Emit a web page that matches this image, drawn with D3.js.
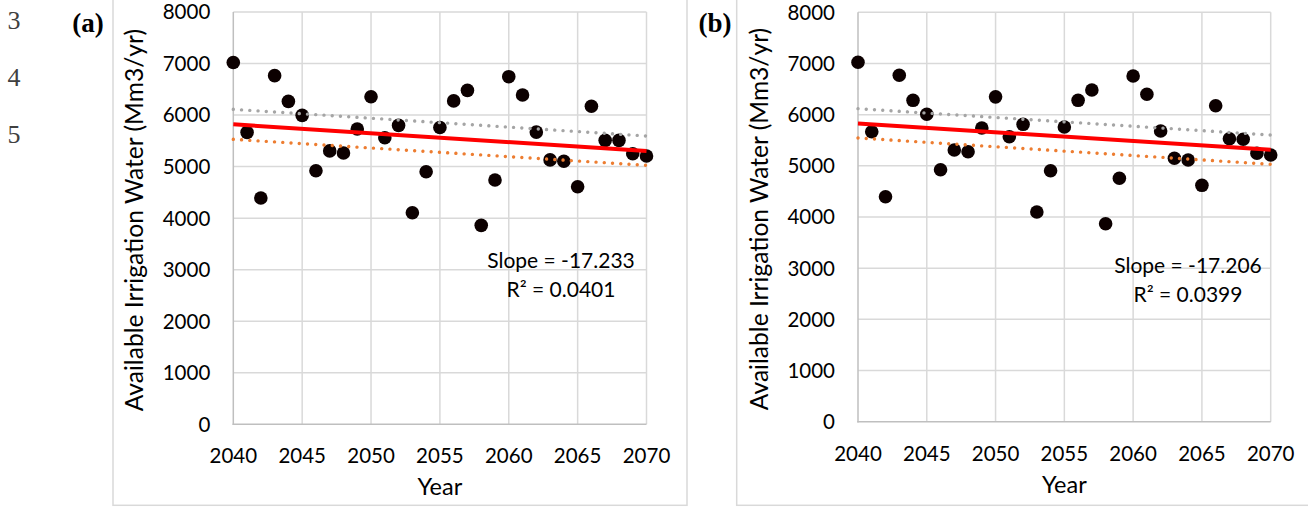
<!DOCTYPE html>
<html>
<head>
<meta charset="utf-8">
<script src="https://cdn.jsdelivr.net/npm/d3@7"></script>
<style>
  body { margin: 0; background: #fff; }
  svg { display: block; }
</style>
</head>
<body>
<svg id="chart" width="1308" height="508"></svg>
<script>
// Simulated years
const years = [2040, 2041, 2042, 2043, 2044, 2045, 2046, 2047, 2048, 2049,
               2050, 2051, 2052, 2053, 2054, 2055, 2056, 2057, 2058, 2059,
               2060, 2061, 2062, 2063, 2064, 2065, 2066, 2067, 2068, 2069, 2070];

// Available irrigation water (Mm3/yr), scenario (a)
const waterA = [7020, 5665, 4390, 6765, 6265, 5995, 4920, 5305, 5265, 5730,
                6355, 5560, 5800, 4105, 4900, 5760, 6275, 6480, 3860, 4740,
                6745, 6390, 5670, 5130, 5105, 4610, 6170, 5510, 5510, 5250, 5205];

// Available irrigation water (Mm3/yr), scenario (b)
const waterB = [7023, 5667, 4397, 6769, 6280, 6007, 4924, 5309, 5276, 5739,
                6348, 5569, 5811, 4098, 4905, 5759, 6280, 6482, 3869, 4756,
                6755, 6398, 5680, 5147, 5114, 4619, 6175, 5530, 5518, 5245, 5212];

// Linear trend: slope per year and value at the first year
const slopeA = -17.233, r2A = "0.0401", trendStartA = 5820;
const slopeB = -17.206, r2B = "0.0399", trendStartB = 5829;

// Dotted bounding trends, [value at 2040, value at 2070]
const upperA = [6112, 5594], lowerA = [5530, 5025];
const upperB = [6117, 5602], lowerB = [5545, 5030];

const xTicks = [2040, 2045, 2050, 2055, 2060, 2065, 2070];
const yTicks = [0, 1000, 2000, 3000, 4000, 5000, 6000, 7000, 8000];
const panelLabels = ["(a)", "(b)"];
const lineNumbers = ["3", "4", "5"];

const svg = d3.select("#chart");
const sans = "Lato, 'Open Sans', sans-serif";
const serif = "'Liberation Serif', 'DejaVu Serif', serif";

// Manuscript line numbers in the margin
svg.selectAll("text.lineno")
  .data(lineNumbers)
  .join("text")
  .attr("class", "lineno")
  .attr("x", 14)
  .attr("y", (d, i) => [29, 86, 143][i])
  .attr("text-anchor", "middle")
  .attr("font-family", serif)
  .attr("font-size", 26)
  .attr("fill", "#404040")
  .text(d => d);

const panels = [
  { label: panelLabels[0], values: waterA, slope: slopeA, r2: r2A, start: trendStartA,
    upper: upperA, lower: lowerA,
    frame: [113, 687], labelPos: [88, 32],
    plot: { left: 233.3, right: 646.5, top: 12, bottom: 424.3 },
    note: [561, 268] },
  { label: panelLabels[1], values: waterB, slope: slopeB, r2: r2B, start: trendStartB,
    upper: upperB, lower: lowerB,
    frame: [736.7, 1320], labelPos: [715, 32],
    plot: { left: 858, right: 1270.7, top: 12.3, bottom: 421.7 },
    note: [1188, 272.5] }
];

panels.forEach(p => {
  const g = svg.append("g");
  const P = p.plot;

  // chart frame
  g.append("rect")
    .attr("x", p.frame[0]).attr("y", -10)
    .attr("width", p.frame[1] - p.frame[0]).attr("height", 505.3 + 10)
    .attr("fill", "none").attr("stroke", "#d9d9d9").attr("stroke-width", 1.5);

  // panel label
  g.append("text")
    .attr("x", p.labelPos[0]).attr("y", p.labelPos[1])
    .attr("text-anchor", "middle")
    .attr("font-family", serif).attr("font-weight", "bold").attr("font-size", 27)
    .attr("fill", "#000")
    .text(p.label);

  const x = d3.scaleLinear().domain([2040, 2070]).range([P.left, P.right]);
  const y = d3.scaleLinear().domain([0, 8000]).range([P.bottom, P.top]);

  // gridlines
  g.append("g").selectAll("line")
    .data(yTicks.filter(v => v > 0))
    .join("line")
    .attr("x1", P.left).attr("x2", P.right)
    .attr("y1", d => y(d)).attr("y2", d => y(d))
    .attr("stroke", "#d9d9d9").attr("stroke-width", 1.5);
  g.append("g").selectAll("line")
    .data(xTicks.filter(v => v > 2040))
    .join("line")
    .attr("x1", d => x(d)).attr("x2", d => x(d))
    .attr("y1", P.top).attr("y2", P.bottom)
    .attr("stroke", "#d9d9d9").attr("stroke-width", 1.5);

  // axis lines
  g.append("line")
    .attr("x1", P.left).attr("x2", P.left).attr("y1", P.top).attr("y2", P.bottom + 0.75)
    .attr("stroke", "#bfbfbf").attr("stroke-width", 1.5);
  g.append("line")
    .attr("x1", P.left - 0.75).attr("x2", P.right).attr("y1", P.bottom).attr("y2", P.bottom)
    .attr("stroke", "#bfbfbf").attr("stroke-width", 1.5);

  // tick labels
  g.append("g").selectAll("text")
    .data(yTicks)
    .join("text")
    .attr("x", P.left - 23).attr("y", d => y(d))
    .attr("dy", "0.36em")
    .attr("text-anchor", "end")
    .attr("font-family", sans).attr("font-size", 20.5).attr("fill", "#000")
    .text(d => d);
  g.append("g").selectAll("text")
    .data(xTicks)
    .join("text")
    .attr("x", d => x(d)).attr("y", P.bottom + 39)
    .attr("text-anchor", "middle")
    .attr("font-family", sans).attr("font-size", 20.5).attr("fill", "#000")
    .text(d => d);

  // axis titles
  g.append("text")
    .attr("x", (P.left + P.right) / 2).attr("y", P.bottom + 71)
    .attr("text-anchor", "middle")
    .attr("font-family", sans).attr("font-size", 23.5).attr("fill", "#000")
    .text("Year");
  g.append("text")
    .attr("transform", `translate(${P.left - 90},${(P.top + P.bottom) / 2 + 2}) rotate(-90)`)
    .attr("text-anchor", "middle")
    .attr("font-family", sans).attr("font-size", 24.6).attr("fill", "#000")
    .text("Available Irrigation Water (Mm3/yr)");

  // data markers
  g.append("g").selectAll("circle")
    .data(years.map((yr, i) => [yr, p.values[i]]))
    .join("circle")
    .attr("cx", d => x(d[0])).attr("cy", d => y(d[1]))
    .attr("r", 6.8)
    .attr("fill", "#0c0000");

  // dotted bounding trends
  const line = d3.line().x(d => x(d[0])).y(d => y(d[1]));
  [[p.upper, "#a5a5a5"], [p.lower, "#ed7d31"]].forEach(([ends, col]) => {
    g.append("path")
      .attr("d", line([[2040, ends[0]], [2070, ends[1]]]))
      .attr("fill", "none").attr("stroke", col)
      .attr("stroke-width", 3.4).attr("stroke-linecap", "round")
      .attr("stroke-dasharray", "0.01 8.25");
  });

  // linear trend
  g.append("path")
    .attr("d", line([[2040, p.start], [2070, p.start + p.slope * 30]]))
    .attr("fill", "none").attr("stroke", "#ff0000").attr("stroke-width", 4);

  // trend annotation
  const note = g.append("text")
    .attr("text-anchor", "middle")
    .attr("font-family", sans).attr("font-size", 21).attr("fill", "#000");
  note.append("tspan").attr("x", p.note[0]).attr("y", p.note[1])
    .text(`Slope = ${p.slope}`);
  note.append("tspan").attr("x", p.note[0]).attr("y", p.note[1] + 29)
    .text(`R² = ${p.r2}`);
});
</script>
</body>
</html>
